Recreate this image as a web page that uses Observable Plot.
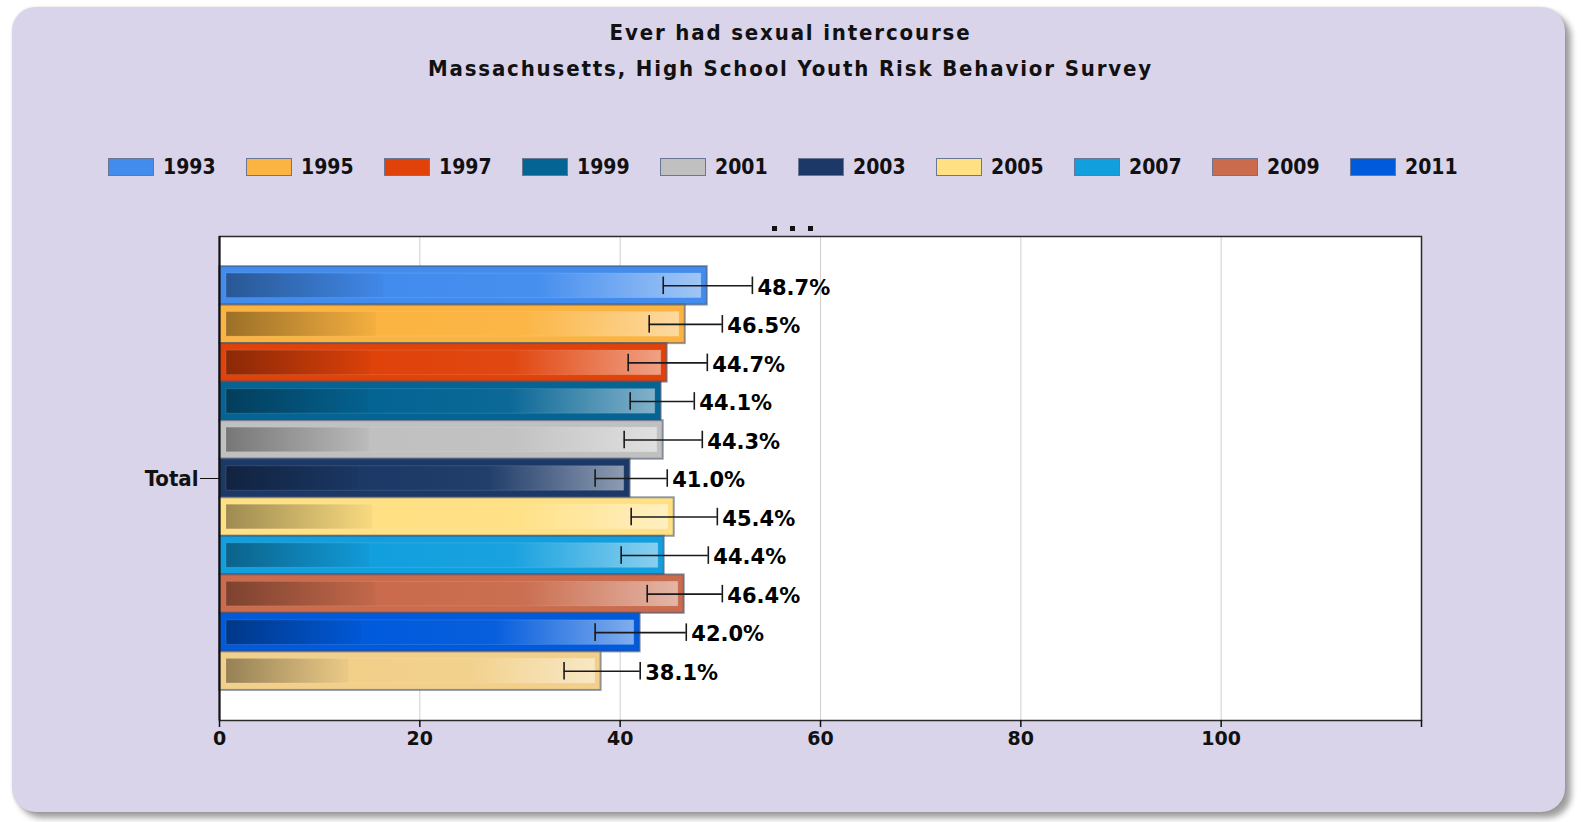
<!DOCTYPE html>
<html>
<head>
<meta charset="utf-8">
<script src="https://cdn.jsdelivr.net/npm/d3@7"></script>
<script src="https://cdn.jsdelivr.net/npm/@observablehq/plot@0.6"></script>
<style>
  html, body { margin: 0; padding: 0; background: #ffffff; }
  #panel { position: absolute; left: 12px; top: 7px; width: 1553px; height: 805px;
    background: #d9d4ea; border-radius: 24px;
    box-shadow: 0 0 3px rgba(0,0,0,0.12), 6px 6px 6px rgba(0,0,0,0.38); }
  #title { position: absolute; left: 14px; width: 1553px; top: 15px; text-align: center;
    font-family: "DejaVu Sans Condensed", "DejaVu Sans", sans-serif; font-weight: bold;
    font-size: 22px; letter-spacing: 1.85px; line-height: 36px; color: #111; }
  #legend { position: absolute; left: 108px; top: 158px; display: flex; }
  .item { display: flex; align-items: center; width: 138px; }
  .sw { width: 44px; height: 16px; border: 1.5px solid #6a7794; }
  .lab { margin-left: 9px; font-family: "DejaVu Sans Condensed", "DejaVu Sans", sans-serif;
    font-weight: bold; font-size: 21px; color: #111; line-height: 18px; }
  #more { position: absolute; left: 772px; top: 226px; display: flex; gap: 13px; }
  #more span { width: 5px; height: 5px; background: #111; display: block; }
  #chart { position: absolute; left: 0; top: 200px; }
</style>
</head>
<body>
<div id="panel"></div>
<div id="title"></div>
<div id="legend"></div>
<div id="more"><span></span><span></span><span></span></div>
<div id="chart"></div>
<script>
const titleLines = ["Ever had sexual intercourse", "Massachusetts, High School Youth Risk Behavior Survey"];
const category = "Total";
const years = ["1993", "1995", "1997", "1999", "2001", "2003", "2005", "2007", "2009", "2011", "2013"];
const legendYears = ["1993", "1995", "1997", "1999", "2001", "2003", "2005", "2007", "2009", "2011"];
const values = [48.7, 46.5, 44.7, 44.1, 44.3, 41.0, 45.4, 44.4, 46.4, 42.0, 38.1];
const lower  = [44.3, 42.9, 40.8, 41.0, 40.4, 37.5, 41.1, 40.1, 42.7, 37.5, 34.4];
const upper  = [53.2, 50.2, 48.7, 47.4, 48.2, 44.7, 49.7, 48.8, 50.2, 46.6, 42.0];
const colors = ["#428cee", "#fbb441", "#e0420a", "#046494", "#c0c0c0", "#1b3866",
                "#ffe083", "#129fde", "#c96b4c", "#005adc", "#f2d08a"];
const xTicks = [0, 20, 40, 60, 80, 100, 120];

// title
document.getElementById("title").innerHTML = titleLines.join("<br>");

// legend
const legend = document.getElementById("legend");
legendYears.forEach((y) => {
  const i = years.indexOf(y);
  const item = document.createElement("div");
  item.className = "item";
  const sw = document.createElement("div");
  sw.className = "sw";
  sw.style.background = colors[i];
  const lab = document.createElement("div");
  lab.className = "lab";
  lab.textContent = y;
  item.appendChild(sw);
  item.appendChild(lab);
  legend.appendChild(item);
});

const data = years.map((year, i) => ({
  category, year, value: values[i], lo: lower[i], hi: upper[i]
}));

const fmt = d3.format(".1f");

const chart = Plot.plot({
  width: 1581,
  height: 560,
  marginLeft: 219,
  marginRight: 160,
  marginTop: 36,
  marginBottom: 40,
  style: { background: "transparent", fontFamily: "DejaVu Sans", overflow: "visible" },
  x: { domain: [0, 120], ticks: xTicks, label: null },
  y: { domain: years, paddingInner: 0, paddingOuter: 0.78, round: false, axis: null },
  fy: { domain: [category], padding: 0, round: false, label: null, axis: null },
  color: { domain: years, range: colors },
  marks: [
    Plot.frame({ fill: "white" }),
    Plot.gridX(xTicks.slice(1, -1), { stroke: "#cfcfcf", strokeOpacity: 1, strokeWidth: 1 }),
    Plot.barX(data, { x: "value", y: "year", fy: "category", fill: "year",
      stroke: "#3f4f70", strokeOpacity: 0.55, strokeWidth: 2 }),
    Plot.barX(data, { x: "value", y: "year", fy: "category", fill: "url(#shade)",
      stroke: "#ffffff", strokeOpacity: 0.12, strokeWidth: 1,
      insetTop: 7, insetBottom: 7, insetLeft: 7, insetRight: 6 }),
    Plot.ruleY(data, { x1: "lo", x2: "hi", y: "year", fy: "category", stroke: "#1a1a1a", strokeWidth: 1.6 }),
    Plot.tickX(data, { x: "lo", y: "year", fy: "category", stroke: "#1a1a1a", strokeWidth: 1.6, insetTop: 10.5, insetBottom: 10.5 }),
    Plot.tickX(data, { x: "hi", y: "year", fy: "category", stroke: "#1a1a1a", strokeWidth: 1.6, insetTop: 10.5, insetBottom: 10.5 }),
    Plot.text(data, { x: "hi", y: "year", fy: "category", text: (d) => fmt(d.value) + "%",
      textAnchor: "start", dx: 5, dy: 2, fill: "#000", fontSize: 21, fontWeight: "bold" }),
    Plot.frame({ stroke: "#2a2a2a", strokeWidth: 1.5 }),
    Plot.ruleX([0], { stroke: "#111", strokeWidth: 2 }),
    Plot.axisX({ anchor: "bottom", ticks: xTicks, tickFormat: (d) => (d === 120 ? "" : d),
      tickSize: 7, tickPadding: 4, fontSize: 19, fontWeight: "bold", stroke: "#111", fill: "#111", strokeWidth: 1.5 }),
    Plot.axisFy({ anchor: "left", tickSize: 19, tickPadding: 2, fontSize: 22, fontWeight: "bold",
      fontFamily: "DejaVu Sans Condensed", stroke: "#111", fill: "#111", label: null })
  ]
});

// gradient for the bar shading
const ns = "http://www.w3.org/2000/svg";
const defs = document.createElementNS(ns, "defs");
const lg = document.createElementNS(ns, "linearGradient");
lg.setAttribute("id", "shade");
lg.setAttribute("x1", "0"); lg.setAttribute("x2", "1");
lg.setAttribute("y1", "0"); lg.setAttribute("y2", "0");
[[0, "#000", 0.38], [0.33, "#000", 0.03], [0.335, "#fff", 0.0], [0.66, "#fff", 0.03], [1, "#fff", 0.5]]
  .forEach(([o, c, a]) => {
    const s = document.createElementNS(ns, "stop");
    s.setAttribute("offset", o);
    s.setAttribute("stop-color", c);
    s.setAttribute("stop-opacity", a);
    lg.appendChild(s);
  });
defs.appendChild(lg);
chart.insertBefore(defs, chart.firstChild);

document.getElementById("chart").appendChild(chart);
</script>
</body>
</html>
